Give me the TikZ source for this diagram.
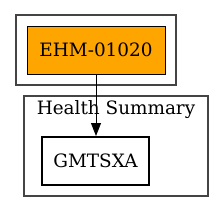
\documentclass[tikz,border=0pt]{standalone}
\usepackage{fontspec}
\setmainfont{DejaVu Serif}
\usetikzlibrary{arrows.meta}
\definecolor{clustergray}{HTML}{444444}
\definecolor{nodeorange}{HTML}{FFA500}
\tikzset{
  clusterbox/.style={draw=clustergray, line width=1.2pt, inner sep=0pt},
  nodebox/.style={draw=black, inner sep=0pt, font=\fontsize{18.4}{22}\selectfont},
  conn/.style={draw=black, line width=0.9pt, -{Triangle[length=13pt,width=10pt]}},
}
\begin{document}
\begin{tikzpicture}[x=1pt,y=-1pt]
\useasboundingbox (0,0) rectangle (224,212);
\node[clusterbox, minimum width=160pt, minimum height=70pt] (c1) at (96,50) {};
\node[clusterbox, minimum width=184pt, minimum height=100pt] (c2) at (116,146) {};
\node[font=\fontsize{18.4}{22}\selectfont, inner sep=0pt] (t2) at (116,110) {Health Summary};
\node[nodebox, fill=nodeorange, line width=1pt, minimum width=138pt, minimum height=48pt] (ehm) at (96,50) {EHM-01020};
\node[nodebox, line width=2pt, minimum width=107pt, minimum height=48pt] (gmt) at (95.5,161) {GMTSXA};
\draw[conn] (ehm.south) -- (ehm.south |- gmt.north);
\end{tikzpicture}
\end{document}
